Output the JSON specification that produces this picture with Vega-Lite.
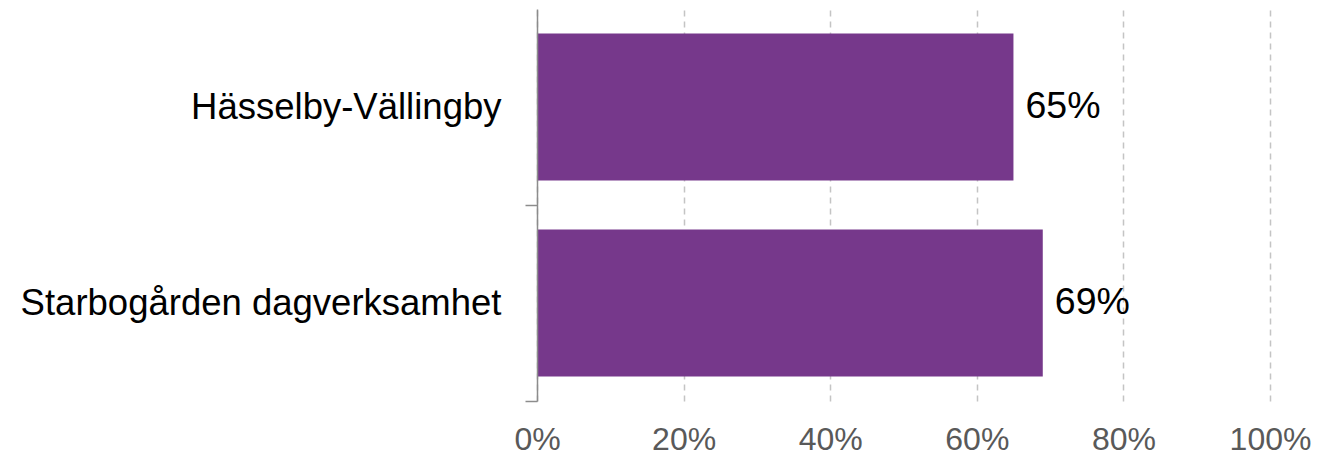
{
  "$schema": "https://vega.github.io/schema/vega-lite/v6.json",
  "autosize": {"type": "none"},
  "padding": {"left": 537, "top": 9, "right": 54, "bottom": 55},
  "width": 733,
  "height": 392,
  "background": "white",
  "config": {"view": {"stroke": null}, "font": "Liberation Sans"},
  "data": {"values": [
    {"omrade": "Hässelby-Vällingby", "andel": 0.65},
    {"omrade": "Starbogården dagverksamhet", "andel": 0.69}
  ]},
  "encoding": {
    "y": {
      "field": "omrade", "type": "nominal", "sort": null,
      "scale": {"paddingInner": 0.25, "paddingOuter": 0.125},
      "axis": {
        "title": null, "zindex": 1,
        "domainColor": "#8c8c8c", "domainWidth": 1.5,
        "tickColor": "#8c8c8c", "tickWidth": 1.5, "tickSize": 12,
        "tickOffset": 98, "labelOffset": -98,
        "labelFontSize": 36.5, "labelColor": "#000000", "labelPadding": 24,
        "labelFont": "Liberation Sans", "labelLimit": 600
      }
    },
    "x": {
      "field": "andel", "type": "quantitative",
      "scale": {"domain": [0, 1], "nice": false},
      "axis": {
        "title": null, "format": ".0%", "values": [0, 0.2, 0.4, 0.6, 0.8, 1],
        "domain": false, "ticks": false, "tickSize": 0, "labelFlush": false,
        "grid": true, "gridColor": "#c4c4c4", "gridWidth": 1.5, "gridDash": [6, 5],
        "labelFontSize": 32, "labelColor": "#595959", "labelPadding": 23,
        "labelFont": "Liberation Sans"
      }
    }
  },
  "layer": [
    {"mark": {"type": "bar", "color": "#76388B"}},
    {
      "mark": {"type": "text", "align": "left", "baseline": "middle", "dx": 12, "fontSize": 37.5, "color": "#000000", "font": "Liberation Sans"},
      "encoding": {"text": {"field": "andel", "type": "quantitative", "format": ".0%"}}
    }
  ]
}
